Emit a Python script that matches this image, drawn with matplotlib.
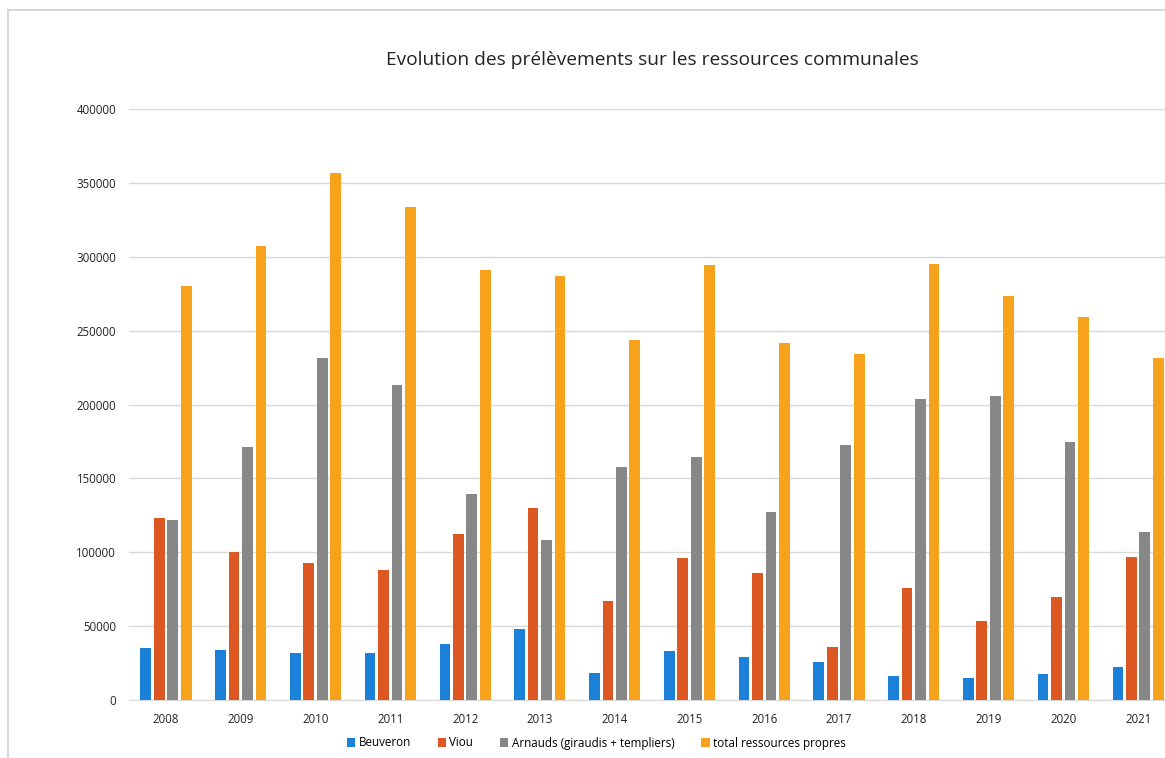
import numpy as np
import matplotlib.pyplot as plt
from matplotlib.lines import Line2D

years = ['2008', '2009', '2010', '2011', '2012', '2013', '2014',
         '2015', '2016', '2017', '2018', '2019', '2020', '2021']
beuveron = [35000, 33700, 31600, 31600, 38100, 48300, 18500,
            33100, 29300, 25500, 16400, 14900, 17300, 22600]
viou = [123000, 100500, 92600, 87900, 112500, 129800, 66800,
        96100, 85800, 35700, 75600, 53600, 69700, 97000]
arnauds = [121600, 171400, 231500, 213000, 139500, 108400, 157600,
           164700, 127500, 172900, 203600, 206000, 174300, 113400]
total = [280100, 307100, 356900, 333400, 290700, 287100, 243800,
         294500, 241700, 234100, 295100, 273700, 259300, 231500]

labels = ['Beuveron', 'Viou', 'Arnauds (giraudis + templiers)', 'total ressources propres']
colors = ['#1a80d8', '#dc5722', '#878787', '#f7a21b']

plt.rcParams['font.family'] = ['Open Sans', 'DejaVu Sans']

fig = plt.figure(figsize=(11.65, 7.58), dpi=100)
ax = fig.add_axes([0.1104, 0.0765, 0.8896, 0.7797])

x = np.arange(len(years))
w = 0.143
offs = [-0.27, -0.09, 0.09, 0.27]
for series, off, c, lab in zip([beuveron, viou, arnauds, total], offs, colors, labels):
    ax.bar(x + off, series, width=w, color=c, label=lab, zorder=3)

ax.set_xlim(-0.5, 13.36)
ax.set_ylim(0, 400000)
ax.set_yticks(np.arange(0, 400001, 50000))
ax.set_xticks(x)
ax.set_xticklabels(years)
ax.tick_params(axis='both', length=0, labelsize=8.3, colors='#222222')
ax.tick_params(axis='y', pad=9)
ax.tick_params(axis='x', pad=9)
ax.grid(axis='y', color='#d9d9d9', linewidth=1, zorder=0)
for s in ['top', 'right', 'left']:
    ax.spines[s].set_visible(False)
ax.spines['bottom'].set_color('#d9d9d9')

fig.text(652 / 1165, 1 - 60 / 758, 'Evolution des prélèvements sur les ressources communales',
         ha='center', va='center', fontsize=13.8, color='#222222')

fig.legend(loc='center', bbox_to_anchor=(0.512, 1 - 743 / 758), ncol=4, frameon=False,
           fontsize=8.4, handlelength=0.7, handleheight=0.7, handletextpad=0.3,
           columnspacing=2.3)

# faint scan frame
fig.add_artist(Line2D([8 / 1165, 8 / 1165], [0, 1 - 10 / 758], color='#d0d0d0', lw=1.2))
fig.add_artist(Line2D([8 / 1165, 1], [1 - 10 / 758, 1 - 10 / 758], color='#d0d0d0', lw=1.2))

fig.savefig('out.png', dpi=100)
